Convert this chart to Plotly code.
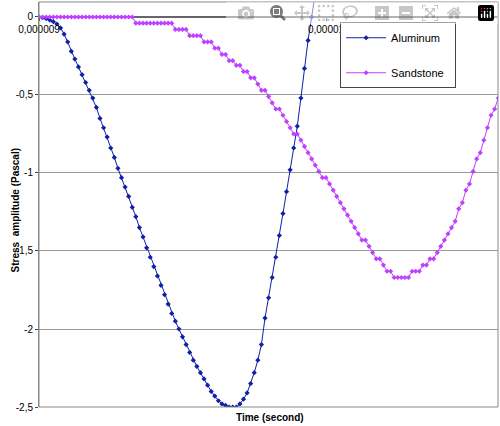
import plotly.graph_objects as go

t0 = 9e-6
dt = 0.0125e-6

aluminum = [0, -0.005, -0.01, -0.02, -0.03, -0.045, -0.07, -0.11, -0.16, -0.22,
            -0.27, -0.32, -0.37, -0.42, -0.47, -0.52, -0.58, -0.65, -0.71, -0.77,
            -0.84, -0.9, -0.97, -1.03, -1.09, -1.15, -1.22, -1.28, -1.35, -1.41,
            -1.48, -1.54, -1.6, -1.66, -1.72, -1.78, -1.84, -1.9, -1.95, -2.0,
            -2.05, -2.1, -2.15, -2.2, -2.24, -2.28, -2.32, -2.36, -2.4, -2.43,
            -2.46, -2.48, -2.49, -2.5, -2.5, -2.5, -2.48, -2.45, -2.41, -2.35,
            -2.28, -2.2, -2.1, -1.93, -1.8, -1.67, -1.54, -1.4, -1.26, -1.12,
            -0.98, -0.84, -0.7, -0.52, -0.33, -0.15, 0.0, 0.15]

sandstone = ([0] * 27 + [-0.04] * 11 + [-0.08] * 4 + [-0.12] * 4 + [-0.16] * 3
             + [-0.2] * 2 + [-0.24] * 2 + [-0.28] * 2 + [-0.31] * 2 + [-0.35] * 2 + [-0.39] * 2
             + [-0.43, -0.47, -0.47, -0.51, -0.55, -0.59, -0.59, -0.63, -0.67, -0.71,
                -0.75, -0.75, -0.79, -0.83, -0.87, -0.91, -0.95, -0.99, -1.03, -1.03,
                -1.07, -1.11, -1.15, -1.19, -1.23, -1.27, -1.31, -1.35, -1.39, -1.43,
                -1.43, -1.47, -1.51, -1.55, -1.55, -1.59, -1.63, -1.63, -1.67, -1.67,
                -1.67, -1.67, -1.67, -1.63, -1.63, -1.63, -1.59, -1.59, -1.55, -1.55,
                -1.51, -1.47, -1.43, -1.39, -1.35, -1.31, -1.23, -1.19, -1.11, -1.07,
                -0.99, -0.91, -0.87, -0.79, -0.71, -0.63, -0.59, -0.52])

t_al = [t0 + i * dt for i in range(len(aluminum))]
t_sa = [t0 + i * dt for i in range(len(sandstone))]

y_ticks = [0, -0.5, -1, -1.5, -2, -2.5]
y_labels = ["0", "-0,5", "-1", "-1,5", "-2", "-2,5"]
x_ticks = [9e-6, 1e-5]
x_labels = ["0,000009", "0,00001"]

fig = go.Figure()
fig.add_trace(go.Scatter(x=t_al, y=aluminum, mode="lines+markers", name="Aluminum  ",
                         legendgroup="a",
                         line=dict(color="#1020a8", width=1),
                         marker=dict(symbol="diamond", size=4, color="#1020a8")))
fig.add_trace(go.Scatter(x=t_sa, y=sandstone, mode="lines+markers", name="Sandstone  ",
                         legendgroup="s",
                         line=dict(color="#c040ff", width=1),
                         marker=dict(symbol="diamond", size=4, color="#c040ff")))

fig.update_layout(
    width=500, height=426,
    margin=dict(l=39, r=2, t=2, b=19),
    paper_bgcolor="white", plot_bgcolor="white",
    font=dict(family="Liberation Sans, Arial", size=10, color="black"),
    legend=dict(x=0.656, y=0.95, xanchor="left", yanchor="top",
                bgcolor="white", bordercolor="#444", borderwidth=1,
                font=dict(size=11), tracegroupgap=16, itemwidth=40),
    xaxis=dict(range=[9e-6, 1.05993e-5], tickvals=x_ticks, ticktext=x_labels,
               anchor="free", position=0.963, showgrid=False, zeroline=False,
               ticks="outside", ticklen=3, showline=False, tickfont=dict(size=10)),
    yaxis=dict(range=[-2.5, 0.096], tickvals=y_ticks, ticktext=y_labels,
               showgrid=True, gridcolor="#999", zeroline=True, zerolinecolor="#666",
               showline=True, linecolor="#888", ticks="outside", ticklen=3),
    annotations=[
        dict(text="<b>Stress  amplitude (Pascal)</b>", xref="paper", yref="paper",
             x=-0.068, y=0.486, textangle=-90, showarrow=False, font=dict(size=10)),
        dict(text="<b>Time (second)</b>", xref="paper", yref="paper",
             x=0.503, y=-0.025, yanchor="middle", showarrow=False, font=dict(size=10)),
    ],
    shapes=[dict(type="rect", xref="paper", yref="paper", x0=0, x1=1, y0=0, y1=1,
                 line=dict(color="#888", width=1))],
)

fig.write_html("out.html", post_script="document.body.style.margin='0';")
